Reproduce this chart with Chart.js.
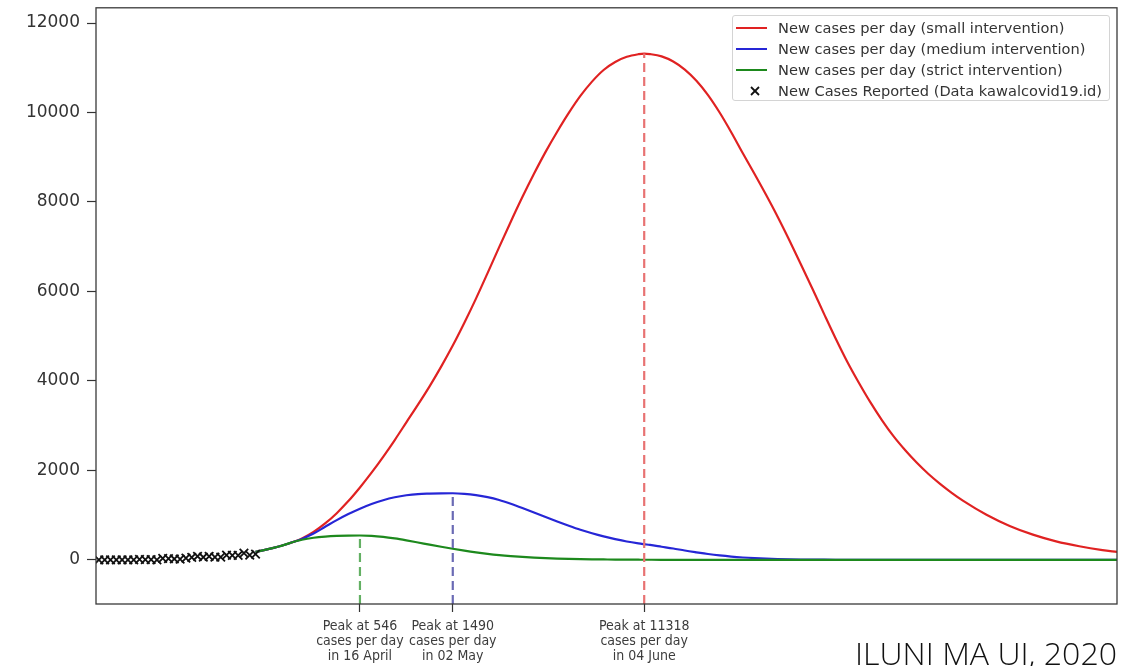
<!DOCTYPE html>
<html><head><meta charset="utf-8">
<script src="https://cdn.jsdelivr.net/npm/chart.js@4.4.1/dist/chart.umd.min.js"></script>
<style>
html,body{margin:0;padding:0;background:#fff;}
#wrap{position:relative;width:1130px;height:666px;overflow:hidden;background:#fff;}
#c{position:absolute;left:0;top:0;}
#legend{position:absolute;left:732px;top:15px;width:378px;height:86px;box-sizing:border-box;border:1px solid #d4d4d4;border-radius:3px;background:rgba(255,255,255,0.9);font-family:'DejaVu Sans',sans-serif;font-size:14.6px;color:#333;}
.item{position:absolute;left:0;height:21px;width:100%;}
.swatch{position:absolute;left:3px;top:10px;width:31px;height:2px;}
.mark{position:absolute;left:17px;top:6px;}
.label{position:absolute;left:45px;top:2px;line-height:17px;white-space:nowrap;}
#credit{position:absolute;left:855px;top:631px;font-family:'Open Sans',sans-serif;font-weight:300;font-size:32px;line-height:44px;color:#111;white-space:nowrap;transform-origin:left top;}
</style></head>
<body>
<div id="wrap">
<canvas id="c" width="1130" height="666"></canvas>
<div id="legend"></div>
<div id="credit">ILUNI MA UI, 2020</div>
</div>
<script>
// days since 1 March 2020
const DAYS  = [28,30,32,34,36,38,40,42,44,46,48,50,52,54,56,58,60,62,64,66,68,70,72,74,76,78,80,82,84,86,88,90,92,94,95,96,98,100,102,104,106,108,110,112,114,116,118,120,122,124,126,128,130,132,134,136,138,140,142,144,146,148,150,154,158,162,166,170,174,176.5];
const RED   = [180,235,300,380,480,625,815,1045,1315,1620,1950,2305,2680,3075,3470,3880,4320,4790,5300,5840,6410,6990,7560,8110,8630,9120,9570,9990,10370,10690,10950,11130,11245,11303,11318,11306,11255,11140,10960,10710,10390,10000,9560,9090,8630,8160,7670,7150,6610,6060,5500,4950,4430,3960,3520,3120,2760,2450,2170,1920,1700,1500,1320,1010,760,565,415,305,220,180];
const BLUE  = [180,235,300,380,470,590,740,890,1025,1145,1250,1335,1400,1445,1472,1482,1488,1490,1478,1450,1405,1340,1255,1160,1060,960,860,765,675,595,525,465,412,370,352,335,295,255,210,170,132,100,74,54,39,28,20,14,10,7,5,3.5,2.5,2,1.5,1,1,0.5,0.5,0.3,0.2,0.1,0,0,0,0,0,0,0,0];
const GREEN = [180,235,300,380,450,495,522,538,545,546,538,515,480,437,390,342,295,250,208,170,137,109,86,67,52,40,31,24,18,14,11,8,6,5,4,4,3,2,2,1.5,1,1,0.5,0.5,0.3,0.2,0.1,0,0,0,0,0,0,0,0,0,0,0,0,0,0,0,0,0,0,0,0,0,0,0];
const REPORTED_DAYS = [1,2,3,4,5,6,7,8,9,10,11,12,13,14,15,16,17,18,19,20,21,22,23,24,25,26,27,28];
const REPORTED      = [2,0,0,0,2,0,2,13,8,7,0,35,27,21,17,38,55,82,60,81,64,65,107,104,103,153,109,130];
const PEAK_DAYS   = [46, 62, 95];
const PEAK_VALUES = [546, 1490, 11318];
const PEAK_DATES  = ['16 April', '02 May', '04 June'];
const Y_TICKS = [0, 2000, 4000, 6000, 8000, 10000, 12000];
const Y_MIN = -985, Y_MAX = 12340;
const X_MIN = 0.5, X_MAX = 176.5;
const LEGEND_LABELS = [
  'New cases per day (small intervention)',
  'New cases per day (medium intervention)',
  'New cases per day (strict intervention)',
  'New Cases Reported (Data kawalcovid19.id)'
];
const COLORS = ['#e02222', '#2626d6', '#1d891d'];
const DASH_COLORS = ['#63b063', '#6a6ab4', '#e87272'];

const pts = (xs, ys) => xs.map((x, i) => ({x, y: ys[i]}));
const curve = (label, ys, color, order) => ({
  label, data: pts(DAYS, ys), borderColor: color, borderWidth: 2.2,
  pointRadius: 0, fill: false, cubicInterpolationMode: 'monotone', order
});
const datasets = [];
PEAK_DAYS.forEach((d, i) => {
  datasets.push({
    label: 'peak' + i,
    data: [{x: d, y: Y_MIN}, {x: d, y: PEAK_VALUES[i]}],
    borderColor: DASH_COLORS[i], borderWidth: 2.2, borderDash: [9, 5],
    pointRadius: 0, fill: false, order: 0
  });
});
datasets.push(curve(LEGEND_LABELS[0], RED, COLORS[0], 3));
datasets.push(curve(LEGEND_LABELS[1], BLUE, COLORS[1], 2));
datasets.push(curve(LEGEND_LABELS[2], GREEN, COLORS[2], 1));
datasets.push({
  label: LEGEND_LABELS[3], data: pts(REPORTED_DAYS, REPORTED), showLine: false,
  pointStyle: 'crossRot', pointRadius: 6, pointBorderWidth: 1.8,
  pointBorderColor: '#111', borderColor: '#111', backgroundColor: '#111', order: 0
});

const frame = {
  id: 'frame',
  afterDatasetsDraw(chart) {
    const {ctx, chartArea: a} = chart;
    ctx.save();
    ctx.strokeStyle = '#3a3a3a';
    ctx.lineWidth = 1.3;
    ctx.strokeRect(a.left, a.top, a.right - a.left, a.bottom - a.top);
    ctx.restore();
  }
};

new Chart(document.getElementById('c'), {
  type: 'line',
  data: {datasets},
  options: {
    responsive: false, animation: false,
    layout: {padding: {top: 6, right: 13, left: 0, bottom: 0}},
    plugins: {legend: {display: false}, tooltip: {enabled: false}},
    scales: {
      x: {
        type: 'linear', min: X_MIN, max: X_MAX,
        afterFit(s) { s.height = 62; s.paddingLeft = 0; s.paddingRight = 0; },
        afterBuildTicks(s) { s.ticks = PEAK_DAYS.map(v => ({value: v})); },
        ticks: {
          autoSkip: false, maxRotation: 0, padding: 7, color: '#3c3c3c',
          font: {family: "'DejaVu Sans Condensed','DejaVu Sans',sans-serif", size: 14, lineHeight: 15 / 14},
          callback(v) {
            const i = PEAK_DAYS.indexOf(v);
            return ['Peak at ' + PEAK_VALUES[i], 'cases per day', 'in ' + PEAK_DATES[i]];
          }
        },
        grid: {drawOnChartArea: false, drawTicks: true, tickLength: 8, tickColor: '#333', tickWidth: 1.2},
        border: {display: false}
      },
      y: {
        type: 'linear', min: Y_MIN, max: Y_MAX,
        afterFit(s) { s.width = 96; s.paddingTop = 0; s.paddingBottom = 0; },
        afterBuildTicks(s) { s.ticks = Y_TICKS.map(v => ({value: v})); },
        ticks: {
          padding: 7, color: '#333',
          font: {family: "'DejaVu Sans',sans-serif", size: 17},
          callback: v => String(v)
        },
        grid: {drawOnChartArea: false, drawTicks: true, tickLength: 9, tickColor: '#333', tickWidth: 1.2},
        border: {display: false}
      }
    }
  },
  plugins: [frame]
});

// legend (matplotlib-style, upper right)
const lg = document.getElementById('legend');
LEGEND_LABELS.forEach((txt, i) => {
  const row = document.createElement('div');
  row.className = 'item';
  row.style.top = (0.5 + i * 21) + 'px';
  if (i < 3) {
    const sw = document.createElement('div');
    sw.className = 'swatch';
    sw.style.background = COLORS[i];
    row.appendChild(sw);
  } else {
    const ns = 'http://www.w3.org/2000/svg';
    const svg = document.createElementNS(ns, 'svg');
    svg.setAttribute('width', '10'); svg.setAttribute('height', '10');
    svg.setAttribute('class', 'mark');
    [[1,1,9,9],[1,9,9,1]].forEach(c => {
      const l = document.createElementNS(ns, 'line');
      l.setAttribute('x1', c[0]); l.setAttribute('y1', c[1]);
      l.setAttribute('x2', c[2]); l.setAttribute('y2', c[3]);
      l.setAttribute('stroke', '#111'); l.setAttribute('stroke-width', '1.8');
      svg.appendChild(l);
    });
    row.appendChild(svg);
  }
  const lab = document.createElement('div');
  lab.className = 'label';
  lab.textContent = txt;
  row.appendChild(lab);
  lg.appendChild(row);
});

// fit credit text width
const cr = document.getElementById('credit');
const w = cr.getBoundingClientRect().width;
if (w > 0) cr.style.transform = 'scaleX(' + (262 / w) + ')';
</script>
</body></html>
